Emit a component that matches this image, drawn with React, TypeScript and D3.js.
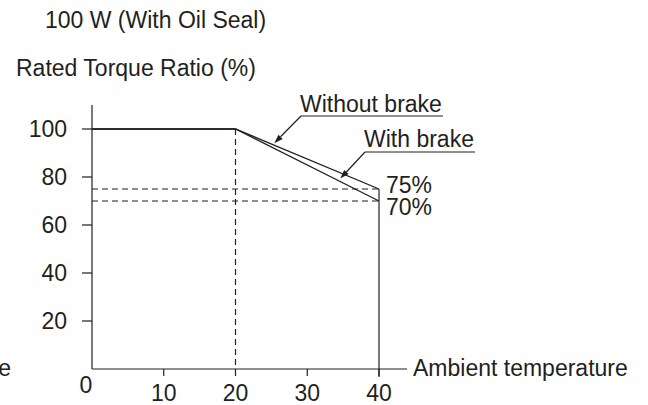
import React, { useEffect, useRef } from 'react';
import * as d3 from 'd3';

// temperature points (deg C) and torque ratio (%)
const temps = [0, 20, 40];
const withoutBrake = [100, 100, 75];
const withBrake = [100, 100, 70];
const yTicks = [20, 40, 60, 80, 100];
const xTicks = [10, 20, 30, 40];
const endLevels = [75, 70];
const endLabels = ['75%', '70%'];

const INK = '#231f20';
const FONT = '"Liberation Sans", Arial, Helvetica, sans-serif';

const App = () => {
  const svgRef = useRef<SVGSVGElement>(null);

  useEffect(() => {
    const svg = d3.select(svgRef.current).attr('width', 648).attr('height', 405);
    svg.selectAll('*').remove();

    const x = d3.scaleLinear().domain([0, 40]).range([92, 379]);
    const y = d3.scaleLinear().domain([0, 100]).range([369, 129]);

    const g = svg.append('g').style('font-family', FONT).style('font-size', '23px');

    // titles
    g.append('text').attr('x', 45).attr('y', 28).attr('fill', INK).text('100 W (With Oil Seal)');
    g.append('text').attr('x', 16).attr('y', 76).attr('fill', INK).text('Rated Torque Ratio (%)');
    // cut-off label of the neighbouring chart
    g.append('text')
      .attr('x', 11)
      .attr('y', 376)
      .attr('text-anchor', 'end')
      .attr('fill', INK)
      .text('Ambient temperature');

    // axes
    g.append('line')
      .attr('x1', x(0)).attr('x2', x(0))
      .attr('y1', 105).attr('y2', y(0))
      .attr('stroke', INK).attr('stroke-width', 1.2);
    g.append('line')
      .attr('x1', x(0)).attr('x2', 407)
      .attr('y1', y(0)).attr('y2', y(0))
      .attr('stroke', INK).attr('stroke-width', 1.2);

    g.selectAll('.ytick')
      .data(yTicks)
      .join('line')
      .attr('x1', x(0) - 10).attr('x2', x(0))
      .attr('y1', (d) => y(d)).attr('y2', (d) => y(d))
      .attr('stroke', INK).attr('stroke-width', 1.2);
    g.selectAll('.ylab')
      .data(yTicks)
      .join('text')
      .attr('x', 67)
      .attr('y', (d) => y(d) + 8)
      .attr('text-anchor', 'end')
      .attr('fill', INK)
      .text((d) => d);

    g.selectAll('.xtick')
      .data(xTicks)
      .join('line')
      .attr('x1', (d) => x(d)).attr('x2', (d) => x(d))
      .attr('y1', y(0)).attr('y2', y(0) + 7)
      .attr('stroke', INK).attr('stroke-width', 1.2);
    g.selectAll('.xlab')
      .data(xTicks)
      .join('text')
      .attr('x', (d) => x(d))
      .attr('y', 401)
      .attr('text-anchor', 'middle')
      .attr('fill', INK)
      .text((d) => d);
    g.append('text').attr('x', x(0) - 6).attr('y', 393).attr('text-anchor', 'middle').attr('fill', INK).text('0');

    g.append('text').attr('x', 413).attr('y', 376).attr('fill', INK).text('Ambient temperature');

    // dashed guides
    g.append('line')
      .attr('x1', x(20)).attr('x2', x(20))
      .attr('y1', y(100)).attr('y2', y(0))
      .attr('stroke', INK).attr('stroke-width', 1.2)
      .attr('stroke-dasharray', '6,4');
    g.selectAll('.hguide')
      .data(endLevels)
      .join('line')
      .attr('x1', x(0)).attr('x2', x(40))
      .attr('y1', (d) => y(d)).attr('y2', (d) => y(d))
      .attr('stroke', INK).attr('stroke-width', 1.2)
      .attr('stroke-dasharray', '6,4');

    // right edge of the range
    g.append('line')
      .attr('x1', x(40)).attr('x2', x(40))
      .attr('y1', y(75)).attr('y2', y(0) + 8)
      .attr('stroke', INK).attr('stroke-width', 1.2);

    // curves
    const line = d3
      .line<number>()
      .x((d, i) => x(temps[i]))
      .y((d) => y(d));
    [withoutBrake, withBrake].forEach((s) => {
      g.append('path')
        .attr('d', line(s))
        .attr('fill', 'none')
        .attr('stroke', INK)
        .attr('stroke-width', 1.3);
    });

    g.selectAll('.endlab')
      .data(endLevels)
      .join('text')
      .attr('x', 386)
      .attr('y', (d, i) => (i === 0 ? 193 : 215))
      .attr('fill', INK)
      .text((d, i) => endLabels[i]);

    // callouts
    const arrow = (fromX: number, fromY: number, tipX: number, tipY: number) => {
      const ang = Math.atan2(tipY - fromY, tipX - fromX);
      const len = 9;
      const w = 3;
      const bx = tipX - len * Math.cos(ang);
      const by = tipY - len * Math.sin(ang);
      g.append('line')
        .attr('x1', fromX).attr('y1', fromY)
        .attr('x2', bx).attr('y2', by)
        .attr('stroke', INK).attr('stroke-width', 1.2);
      g.append('path')
        .attr(
          'd',
          `M${tipX},${tipY}L${bx + w * Math.sin(ang)},${by - w * Math.cos(ang)}L${bx - w * Math.sin(ang)},${by + w * Math.cos(ang)}Z`
        )
        .attr('fill', INK);
    };

    const onLine = (s: number[], t: number) => y(s[1] + ((s[2] - s[1]) * (t - temps[1])) / (temps[2] - temps[1]));

    g.append('text').attr('x', 300).attr('y', 112).attr('fill', INK).text('Without brake');
    g.append('line').attr('x1', 301).attr('x2', 443).attr('y1', 116).attr('y2', 116).attr('stroke', INK).attr('stroke-width', 1.2);
    arrow(301, 116, x(25.4), onLine(withoutBrake, 25.4) - 2);

    g.append('text').attr('x', 364).attr('y', 147).attr('fill', INK).text('With brake');
    g.append('line').attr('x1', 365).attr('x2', 475).attr('y1', 152).attr('y2', 152).attr('stroke', INK).attr('stroke-width', 1.2);
    arrow(365, 152, x(34.6), onLine(withBrake, 34.6) - 3);
  }, []);

  return (
    <div id="chartArea">
      <svg ref={svgRef} style={{ position: 'absolute', left: 0, top: 0 }}></svg>
    </div>
  );
};

export default App;
